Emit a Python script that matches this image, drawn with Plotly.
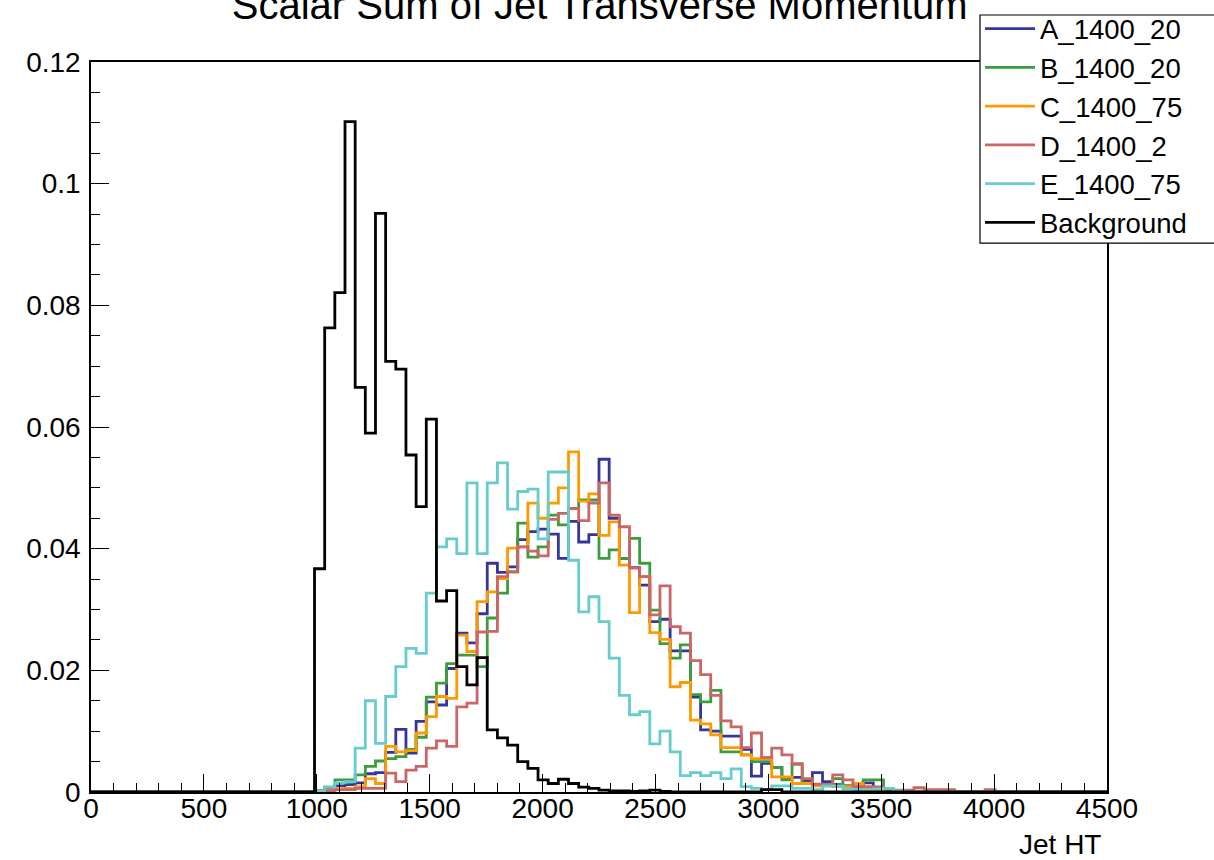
import plotly.graph_objects as go

# ---------------- data ----------------
BIN_WIDTH = 45.0
N_BINS = 100
FIRST_BIN = 22  # first listed bin index (990-1035)

names = ["A_1400_20", "B_1400_20", "C_1400_75", "D_1400_2", "E_1400_75", "Background"]
colors = ["#35359a", "#3d9c3d", "#ff9900", "#cc6666", "#66cccc", "#000000"]

A_1400_20 = [0.0002, 0.0005, 0.0010, 0.0012, 0.0015, 0.0030, 0.0032, 0.0065, 0.0103, 0.0064,
             0.0116, 0.0148, 0.0143, 0.0203, 0.0261, 0.0245, 0.0293, 0.0376, 0.0361, 0.0370,
             0.0415, 0.0428, 0.0432, 0.0424, 0.0384, 0.0445, 0.0411, 0.0423, 0.0547, 0.0450,
             0.0384, 0.0369, 0.0340, 0.0280, 0.0284, 0.0232, 0.0232, 0.0156, 0.0102, 0.0100,
             0.0092, 0.0092, 0.0070, 0.0026, 0.0047, 0.0040, 0.0024, 0.0024, 0.0018, 0.0032,
             0.0017, 0.0012, 0.0010, 0.0008, 0.0015, 0.0008, 0.0003]

B_1400_20 = [0.0002, 0.0008, 0.0020, 0.0020, 0.0028, 0.0042, 0.0051, 0.0055, 0.0058, 0.0070,
             0.0090, 0.0156, 0.0179, 0.0211, 0.0225, 0.0225, 0.0206, 0.0286, 0.0327, 0.0362,
             0.0442, 0.0386, 0.0403, 0.0455, 0.0439, 0.0466, 0.0480, 0.0480, 0.0384, 0.0398,
             0.0384, 0.0417, 0.0376, 0.0299, 0.0244, 0.0220, 0.0242, 0.0160, 0.0148, 0.0167,
             0.0066, 0.0066, 0.0061, 0.0050, 0.0050, 0.0040, 0.0020, 0.0046, 0.0015, 0.0012,
             0.0012, 0.0022, 0.0010, 0.0008, 0.0020, 0.0020, 0.0005]

C_1400_75 = [0.0001, 0.0003, 0.0005, 0.0006, 0.0009, 0.0022, 0.0014, 0.0075, 0.0066, 0.0068,
             0.0097, 0.0124, 0.0157, 0.0154, 0.0258, 0.0231, 0.0313, 0.0329, 0.0351, 0.0401,
             0.0403, 0.0475, 0.0450, 0.0475, 0.0500, 0.0559, 0.0478, 0.0490, 0.0422, 0.0444,
             0.0373, 0.0295, 0.0354, 0.0262, 0.0251, 0.0173, 0.0180, 0.0118, 0.0112, 0.0094,
             0.0073, 0.0073, 0.0061, 0.0055, 0.0055, 0.0025, 0.0025, 0.0014, 0.0014, 0.0010,
             0.0010, 0.0009, 0.0009, 0.0014, 0.0005, 0.0003]

D_1400_2 = [0.0000, 0.0002, 0.0004, 0.0004, 0.0006, 0.0006, 0.0006, 0.0031, 0.0017, 0.0036,
            0.0042, 0.0072, 0.0084, 0.0075, 0.0140, 0.0146, 0.0263, 0.0264, 0.0354, 0.0362,
            0.0403, 0.0396, 0.0388, 0.0448, 0.0458, 0.0466, 0.0446, 0.0475, 0.0508, 0.0455,
            0.0436, 0.0368, 0.0354, 0.0291, 0.0339, 0.0272, 0.0261, 0.0216, 0.0193, 0.0159,
            0.0117, 0.0107, 0.0073, 0.0097, 0.0057, 0.0072, 0.0061, 0.0046, 0.0022, 0.0013,
            0.0012, 0.0028, 0.0020, 0.0009, 0.0009, 0.0008, 0.0006, 0.0003, 0.0003, 0.0007,
            0.0004, 0.0004, 0.0004, 0.0000, 0.0000, 0.0000, 0.0004]

E_1400_75 = [0.0002, 0.0008, 0.0015, 0.0017, 0.0072, 0.0150, 0.0080, 0.0157, 0.0206, 0.0236,
             0.0228, 0.0327, 0.0403, 0.0416, 0.0392, 0.0508, 0.0392, 0.0508, 0.0541, 0.0465,
             0.0494, 0.0498, 0.0416, 0.0526, 0.0526, 0.0381, 0.0296, 0.0321, 0.0280, 0.0220,
             0.0159, 0.0127, 0.0132, 0.0079, 0.0100, 0.0066, 0.0027, 0.0032, 0.0027, 0.0032,
             0.0022, 0.0038, 0.0009, 0.0006, 0.0004, 0.0010, 0.0010, 0.0006, 0.0006, 0.0004,
             0.0010, 0.0010, 0.0005, 0.0004, 0.0003, 0.0005, 0.0006, 0.0002]

Background = [0.0367, 0.0763, 0.0821, 0.1102, 0.0665, 0.0590, 0.0951, 0.0708, 0.0695, 0.0554,
              0.0469, 0.0613, 0.0314, 0.0331, 0.0206, 0.0176, 0.0221, 0.0102, 0.0089, 0.0077,
              0.0050, 0.0039, 0.0020, 0.0014, 0.0021, 0.0014, 0.0008, 0.0006, 0.0003, 0.0002,
              0.0002, 0.0001, 0.0002, 0.0003, 0.0001, 0.0000, 0.0000, 0.0000, 0.0000, 0.0000,
              0.0000, 0.0000, 0.0000, 0.0000, 0.0004, 0.0004]

series = [A_1400_20, B_1400_20, C_1400_75, D_1400_2, E_1400_75, Background]

x_ticks = [0, 500, 1000, 1500, 2000, 2500, 3000, 3500, 4000, 4500]
y_ticks = [0, 0.02, 0.04, 0.06, 0.08, 0.1, 0.12]
y_ticktext = ["0", "0.02", "0.04", "0.06", "0.08", "0.1", "0.12"]

# ---------------- figure ----------------
FONT = "Liberation Sans, Arial, sans-serif"
edges = [i * BIN_WIDTH for i in range(N_BINS + 1)]


def full_bins(vals):
    out = [0.0] * N_BINS
    for k, v in enumerate(vals):
        out[FIRST_BIN + k] = v
    return out + [out[-1]]


fig = go.Figure()
for name, col, vals in zip(names, colors, series):
    fig.add_trace(go.Scatter(
        x=edges, y=full_bins(vals), mode="lines", name=name,
        line=dict(color=col, width=2.8, shape="hv"),
    ))

fig.update_layout(
    width=1214, height=860,
    margin=dict(l=91, r=107, t=62, b=68, autoexpand=False),
    paper_bgcolor="white", plot_bgcolor="white",
    font=dict(family=FONT, color="black"),
    title=dict(text="Scalar Sum of Jet Transverse Momentum",
               font=dict(size=40, family=FONT, color="black"),
               x=0.494, xanchor="center", y=0.978, yanchor="bottom", yref="container"),
    legend=dict(x=0.875, y=1.079, xanchor="left", yanchor="top",
                bgcolor="rgba(0,0,0,0)", borderwidth=0,
                font=dict(size=27.5, family=FONT), itemwidth=50, tracegroupgap=0),
    showlegend=True,
)

# legend frame (white box covering the frame lines, as in the original)
fig.add_shape(type="rect", xref="paper", yref="paper",
              x0=0.875, x1=1.115, y0=0.752, y1=1.0644,
              line=dict(color="black", width=1.2), fillcolor="white", layer="above")

fig.update_xaxes(
    range=[0, 4500], tickvals=x_ticks, ticktext=[str(t) for t in x_ticks],
    ticks="inside", ticklen=18, tickwidth=1.2, tickcolor="black",
    minor=dict(dtick=100, ticks="inside", ticklen=9, tickwidth=1.2, tickcolor="black"),
    showline=True, linecolor="black", linewidth=1.5, mirror=True,
    showgrid=False, zeroline=False, ticklabelstandoff=-9,
    tickfont=dict(size=28, family=FONT),
)
fig.update_yaxes(
    range=[0, 0.12], tickvals=y_ticks, ticktext=y_ticktext,
    ticks="inside", ticklen=18, tickwidth=1.2, tickcolor="black",
    minor=dict(dtick=0.005, ticks="inside", ticklen=9, tickwidth=1.2, tickcolor="black"),
    showline=True, linecolor="black", linewidth=1.5, mirror=True,
    showgrid=False, zeroline=False, ticklabelstandoff=3,
    tickfont=dict(size=28, family=FONT),
)

fig.add_annotation(text="Jet HT", xref="paper", yref="paper", x=0.996, y=-0.0726,
                   xanchor="right", yanchor="middle", showarrow=False,
                   font=dict(size=28, family=FONT, color="black"))

fig.write_html("out.html")
